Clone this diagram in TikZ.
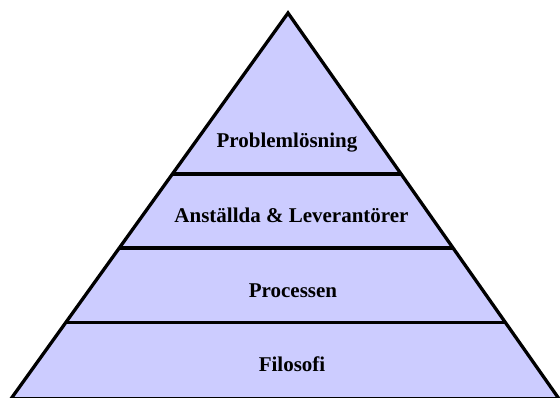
\documentclass[tikz,border=0pt]{standalone}
\usepackage{fontspec}
\setmainfont{Liberation Serif}
\usetikzlibrary{calc}
\definecolor{layerfill}{RGB}{204,204,255}
\tikzset{
  outline/.style={draw=black, line width=3.3pt, line join=miter},
  divider/.style={draw=black, line width=3.3pt},
  tiertext/.style={font=\fontsize{21}{25}\selectfont\bfseries, anchor=base, inner sep=0pt}
}
\begin{document}
\begin{tikzpicture}[x=1pt, y=-1pt]
  \useasboundingbox (0,0) rectangle (560,397);
  \coordinate (apex) at (288,13);
  \coordinate (bl) at (11,398.8);
  \coordinate (br) at (559,398.8);
  % the pyramid body
  \filldraw[outline, fill=layerfill] (apex) -- (bl) -- (br) -- cycle;
  % points where the tier boundaries meet the sides
  \coordinate (l1) at ($(apex)!0.417!(bl)$);
  \coordinate (r1) at ($(apex)!0.417!(br)$);
  \coordinate (l2) at ($(apex)!0.609!(bl)$);
  \coordinate (r2) at ($(apex)!0.609!(br)$);
  \coordinate (l3) at ($(apex)!0.803!(bl)$);
  \coordinate (r3) at ($(apex)!0.803!(br)$);
  \draw[divider] (l1) -- (r1);
  \draw[divider] (l2) -- (r2);
  \draw[divider] (l3) -- (r3);
  % tier labels
  \node[tiertext] (t1) at (287,147) {Problemlösning};
  \node[tiertext] (t2) at (291.5,222) {Anställda \& Leverantörer};
  \node[tiertext] (t3) at (293,297) {Processen};
  \node[tiertext] (t4) at (292,371) {Filosofi};
\end{tikzpicture}
\end{document}
